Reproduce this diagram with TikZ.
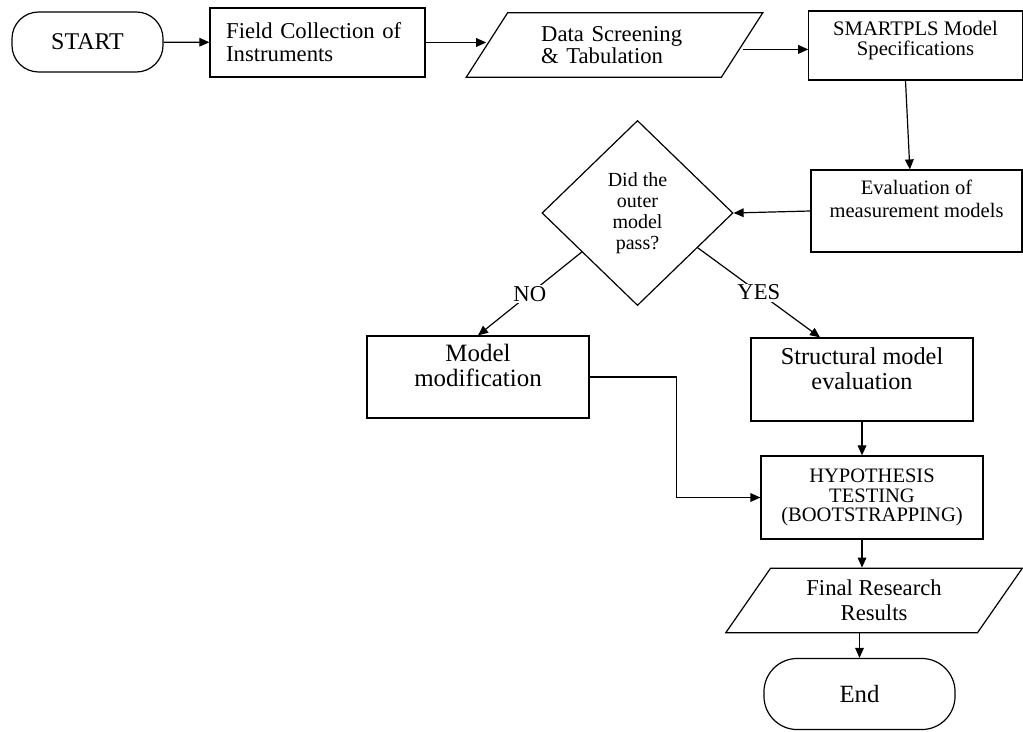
\documentclass[tikz,border=0pt]{standalone}
\usepackage{fontspec}
\setmainfont{Liberation Serif}
\usetikzlibrary{shapes.geometric,arrows.meta}

\begin{document}
\begin{tikzpicture}[x=0.75pt,y=-0.75pt,line width=0.9pt,
  box/.style={draw, rectangle, align=center, inner sep=2pt},
  term/.style={draw, rectangle, rounded corners=20pt, minimum width=113.3pt, minimum height=45pt},
  io/.style={draw, trapezium, trapezium left angle=48, trapezium right angle=132,
     trapezium stretches body, minimum width=222.5pt, minimum height=48.5pt},
  arr/.style={-{Triangle[length=7.5pt,width=6.5pt]}},
  lbl/.style={fill=white, inner sep=1pt, font=\fontsize{17}{17}\selectfont}]
\useasboundingbox (0,0) rectangle (1023,731);

% top row
\node[term, font=\fontsize{18}{18}\selectfont] (start) at (87.5,42) {START};
\node[box, minimum width=161.3pt, minimum height=51.8pt, text width=137pt, align=left,
      font=\fontsize{17}{17.3}\selectfont] (field) at (317.5,42.5) {Field Collection of\\Instruments};
\node[io, text width=110pt, align=left, font=\fontsize{17}{16.5}\selectfont] (data) at (614.5,45) {Data Screening\\\& Tabulation};
\node[box, minimum width=160pt, minimum height=51.8pt, text depth=11pt,
      font=\fontsize{15.5}{15}\selectfont] (smart) at (915.5,45.5) {SMARTPLS Model\\Specifications};

% decision
\node[box, minimum width=158.3pt, minimum height=61.5pt, text depth=19pt,
      font=\fontsize{15.4}{17.3}\selectfont] (eval) at (916.5,211) {Evaluation of\\measurement models};
\node[draw, diamond, minimum width=143.3pt, minimum height=138.8pt, inner sep=0pt, align=center,
      font=\fontsize{15}{15.8}\selectfont] (dec) at (637.5,213) {Did the\\outer\\model\\pass?};

% branches
\node[box, minimum width=166.5pt, minimum height=61.5pt, text depth=17pt,
      font=\fontsize{18.7}{18.8}\selectfont] (mod) at (478,377) {Model\\modification};
\node[box, minimum width=166.5pt, minimum height=62.3pt, text depth=17pt,
      font=\fontsize{18.2}{18.8}\selectfont] (struct) at (862,379.5) {Structural model\\evaluation};
\node[box, minimum width=166.5pt, minimum height=62.3pt,
      font=\fontsize{15.4}{14.8}\selectfont] (hyp) at (872,497.5) {HYPOTHESIS\\TESTING\\(BOOTSTRAPPING)};
\node[io, align=center, font=\fontsize{17}{18.8}\selectfont] (fin) at (874,600.5) {Final Research\\Results};
\node[term, rounded corners=25pt, minimum width=143.3pt, minimum height=53.3pt,
      font=\fontsize{18.6}{18.6}\selectfont] (endn) at (859.5,694) {End};

% connectors
\draw[arr] (start) -- (field);
\draw[arr] (field.east) -- (field.east -| data.west);
\draw[arr] ([yshift=-3.3pt]data.east) -- ([yshift=-3.3pt]data.east -| smart.west);
\draw[arr] ([xshift=-7.5pt]smart.south) -- ([xshift=-5pt]eval.north);
\draw[arr] (eval.west) -- (dec.east);
\draw[arr] (dec.-145) -- node[lbl, pos=0.5] {NO} (mod.north);
\draw[arr] (dec.-30) -- node[lbl, pos=0.5] {YES} ([xshift=-31.5pt]struct.north);
\draw[arr] (mod.east) -- ++(87,0) |- (hyp.west);
\draw[arr] (struct.south) -- (struct.south |- hyp.north);
\draw[arr] (struct.south |- hyp.south) -- (struct.south |- fin.north);
\draw[arr] (endn.north |- fin.south) -- (endn.north);

\end{tikzpicture}
\end{document}
